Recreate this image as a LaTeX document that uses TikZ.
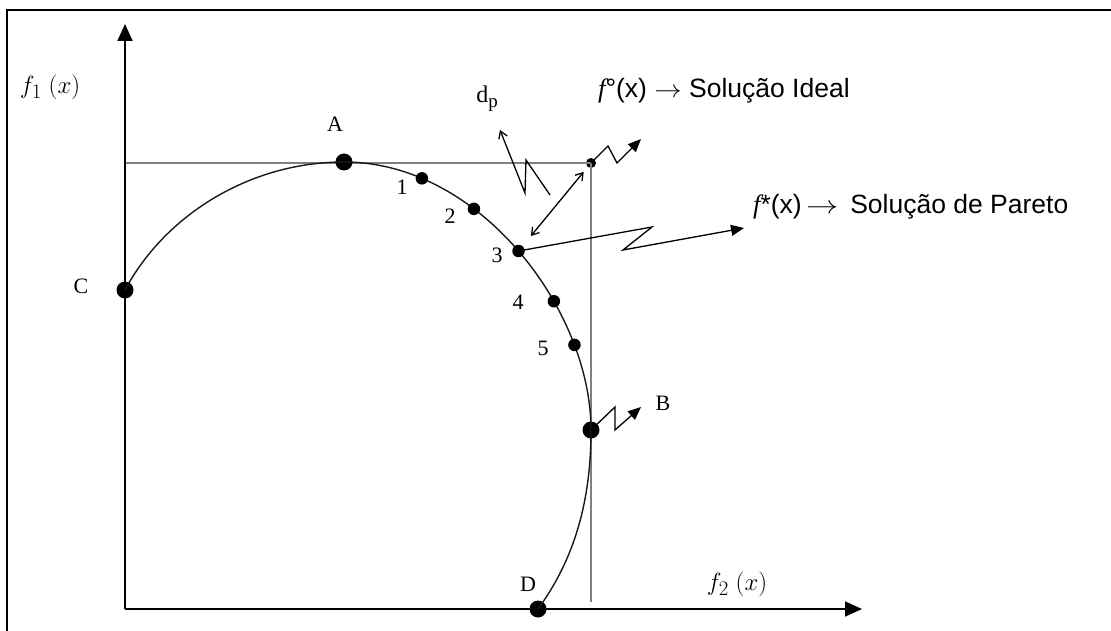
\documentclass[tikz,border=0pt]{standalone}
\usepackage{graphicx}
\usepackage{fontspec}
\setmainfont{Liberation Serif}
\newfontfamily\sansf{Liberation Sans}
\usetikzlibrary{arrows.meta,calc}
\newcommand{\myarrow}[1]{\scalebox{#1}[1]{$\rightarrow$}}
\begin{document}
\begin{tikzpicture}[x=1pt,y=-1pt,
  bigdot/.style={circle,fill=black,inner sep=0pt,minimum size=17pt},
  meddot/.style={circle,fill=black,inner sep=0pt,minimum size=12.5pt},
  smalldot/.style={circle,fill=black,inner sep=0pt,minimum size=10pt},
  axisline/.style={line width=1.8pt,-{Triangle[length=17pt,width=15pt]}},
  guide/.style={line width=1.6pt,draw=black!50},
  curveline/.style={line width=1.4pt,draw=black!90},
  zig/.style={line width=1.3pt,-{Triangle[length=13pt,width=11pt]}},
  thinarrow/.style={line width=1.3pt},
  lbl/.style={font=\fontsize{22}{24}\selectfont,inner sep=0pt},
  mlbl/.style={font=\fontsize{24.88}{28}\selectfont,inner sep=0pt},
  dplbl/.style={font=\fontsize{24}{26}\selectfont,inner sep=0pt},
  txtA/.style={font=\sansf\fontsize{26.5}{30}\selectfont,inner sep=0pt,anchor=base west},
  txtB/.style={font=\sansf\fontsize{26.5}{30}\selectfont,inner sep=0pt,anchor=base west}
]
\useasboundingbox (0,0) rectangle (1111,631);

% frame
\draw[line width=2.2pt] (7,640) -- (7,10) -- (1120,10);

% guide lines
\coordinate (gl) at (125,163);
\coordinate (gb) at (591,602);
\node[smalldot] (I) at (591,163) {};
\draw[guide] (gl) -- (I.center) -- (gb);

% axes
\coordinate (O) at (125,609);
\coordinate (ytip) at (125,24);
\coordinate (xtip) at (862,609);
\draw[axisline] (O) -- (ytip);
\draw[axisline] (O) -- (xtip);

% main points
\node[bigdot] (C) at (125,290) {};
\node[bigdot] (A) at (344,162) {};
\node[bigdot] (B) at (591,430) {};
\node[bigdot] (D) at (538,609) {};

% curve
\draw[curveline] (C.center) .. controls (165,215) and (250,162) .. (A.center)
  .. controls (480,162) and (591,310) .. (B.center)
  .. controls (591,510) and (570,565) .. (D.center);

\path (A.center) .. controls (480,162) and (591,310) .. (B.center)
  node[meddot,pos=0.2] (p1) {}
  node[meddot,pos=0.35] (p2) {}
  node[meddot,pos=0.5] (p3) {}
  node[meddot,pos=0.65] (p4) {}
  node[meddot,pos=0.77] (p5) {};

% labels
\node[lbl] (lA) at (335,124) {A};
\node[lbl] (lB) at (663,403) {B};
\node[lbl] (lC) at (81,286) {C};
\node[lbl] (lD) at (528,584) {D};
\node[lbl] (l1) at (402,187) {1};
\node[lbl] (l2) at (450,216) {2};
\node[lbl] (l3) at (497,255) {3};
\node[lbl] (l4) at (518,302) {4};
\node[lbl] (l5) at (543,348) {5};

\node[mlbl] (f1) at (50,87) {$f_1\;(x)$};
\node[mlbl] (f2) at (737,584) {$f_2\;(x)$};
\node[dplbl] (dp) at (487,99) {d\raisebox{-5pt}{\fontsize{19}{20}\selectfont p}};

% texts
\node[txtA] (tI) at (598,98) {{\rmfamily\itshape f}°(x) \myarrow{1.1} Solução Ideal};
\node[txtB] (tP) at (753,214) {{\rmfamily\itshape f}*(x)\,\myarrow{1.3}\ \,Solução de Pareto};

% dp zigzag
\coordinate (dz0) at (550,195);
\coordinate (dz1) at (526,160);
\coordinate (dz2) at (525,193);
\coordinate (dz3) at (500,130);
\draw[thinarrow,-{Straight Barb[length=7pt,width=9pt]}] (dz0) -- (dz1) -- (dz2) -- (dz3);

% distance arrow
\draw[thinarrow,{Straight Barb[length=7pt,width=9pt]}-{Straight Barb[length=7pt,width=9pt]}]
  ($(p3)!0.17!(I)$) -- ($(p3)!0.9!(I)$);

% Pareto zigzag
\coordinate (pz1) at (652,227);
\coordinate (pz2) at (623,250);
\coordinate (pz3) at (744,228);
\draw[zig] (p3.center) -- (pz1) -- (pz2) -- (pz3);

% Ideal zigzag
\coordinate (iz1) at (608,146);
\coordinate (iz2) at (617,163);
\coordinate (iz3) at (641,139);
\draw[zig] (I.center) -- (iz1) -- (iz2) -- (iz3);

% B zigzag
\coordinate (bz1) at (615,407);
\coordinate (bz2) at (615,430);
\coordinate (bz3) at (641,407);
\draw[zig] (B.center) -- (bz1) -- (bz2) -- (bz3);
\end{tikzpicture}
\end{document}
